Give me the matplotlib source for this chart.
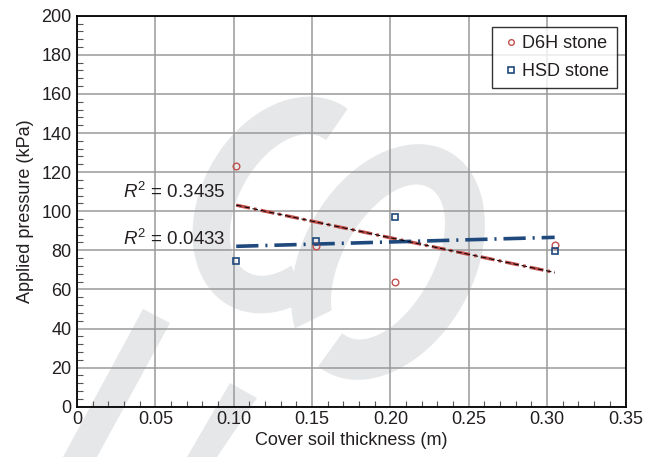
import numpy as np
import matplotlib
matplotlib.use('Agg')
import matplotlib.pyplot as plt
from matplotlib.patches import Polygon
from matplotlib.transforms import Affine2D
from matplotlib.ticker import MultipleLocator

plt.rcParams['font.family'] = ['Liberation Sans', 'DejaVu Sans']
plt.rcParams['mathtext.fontset'] = 'custom'
plt.rcParams['mathtext.it'] = 'Liberation Sans:italic'
plt.rcParams['mathtext.rm'] = 'Liberation Sans'
plt.rcParams['lines.scale_dashes'] = False

# cover soil thickness (m): 4, 6, 8 and 12 inch layers
thickness = [0.1016, 0.1524, 0.2032, 0.3048]
d6h_pressure = [123.3, 82.2, 63.9, 82.7]
hsd_pressure = [74.4, 84.8, 97.2, 79.8]
series_names = ['D6H stone', 'HSD stone']
r2_labels = ['0.3435', '0.0433']

RED = '#c0504d'
BLUE = '#1f497d'
TEXT = '#231f20'
GREY_MARK = '#e6e7e9'

W, H = 657, 457
fig = plt.figure(figsize=(W / 100, H / 100), dpi=100)
fig.patch.set_facecolor('white')
ax = fig.add_axes([77 / W, 1 - 406.7 / H, 548.5 / W, 391 / H])
ax.set_facecolor('none')

# background logo shapes, laid out in pixel units (y downwards)
px = Affine2D().scale(1 / W, -1 / H).translate(0, 1) + fig.transFigure


def ring(cx, cy, a, b, ang, w, t0, t1):
    t = np.radians(np.linspace(t0, t1, 240))
    al = np.radians(ang)
    u = np.array([np.cos(al), -np.sin(al)])
    v = np.array([np.sin(al), np.cos(al)])
    c = np.array([cx, cy])
    outer = c + np.outer(a * np.cos(t), u) + np.outer(b * np.sin(t), v)
    inner = c + np.outer((a - w) * np.cos(t), u) + np.outer((b - w) * np.sin(t), v)
    return np.vstack([outer, inner[::-1]])


shapes = [
    ring(285, 205, 115, 84, 60.6, 38, 130, 365),
    ring(388, 262, 126, 86, 61, 41, 215, 547),
    np.array([[143, 309], [170, 323], [97, 457], [63, 457]]),
    np.array([[230, 383], [257, 398], [217, 457], [187, 457]]),
]
for pts in shapes:
    fig.add_artist(Polygon(pts, closed=True, transform=px, facecolor=GREY_MARK,
                           edgecolor='none', zorder=-5))

x = np.array(thickness)
xs = np.array([x.min(), x.max()])

# linear trend lines
k1, c1 = np.polyfit(x, d6h_pressure, 1)
ax.plot(xs, k1 * xs + c1, color=RED, lw=2.4, ls=(0, (10, 3, 2, 3)), zorder=3)
ax.plot(xs, k1 * xs + c1, color='black', lw=0.7, ls=(0, (4, 2)), zorder=4)
k2, c2 = np.polyfit(x, hsd_pressure, 1)
ax.plot(xs, k2 * xs + c2, color=BLUE, lw=2.6, ls=(0, (16, 5, 1.5, 5)), zorder=3)

ax.plot(x, d6h_pressure, 'o', ms=4.8, mfc='none', mec=RED, mew=1.0,
        label=series_names[0], zorder=5)
ax.plot(x, hsd_pressure, 's', ms=4.6, mfc='none', mec=BLUE, mew=1.2,
        label=series_names[1], zorder=5)

ax.text(0.095, 106.7, r'$R^2$ = ' + r2_labels[0], ha='right', va='baseline',
        fontsize=13.5, color=TEXT)
ax.text(0.095, 82.7, r'$R^2$ = ' + r2_labels[1], ha='right', va='baseline',
        fontsize=13.5, color=TEXT)

ax.set_xlim(0, 0.35)
ax.set_ylim(0, 200)
ax.xaxis.set_minor_locator(MultipleLocator(0.01))
ax.yaxis.set_major_locator(MultipleLocator(20))
ax.yaxis.set_minor_locator(MultipleLocator(4))
ax.set_xticks([0, 0.05, 0.10, 0.15, 0.20, 0.25, 0.30, 0.35])
ax.set_xticklabels(['0', '0.05', '0.10', '0.15', '0.20', '0.25', '0.30', '0.35'])
ax.grid(True, which='major', color='#9a9a9a', lw=1.1, zorder=1)
ax.set_axisbelow(True)
ax.tick_params(which='major', length=0, labelsize=13, colors=TEXT)
ax.tick_params(axis='x', which='major', pad=3)
ax.tick_params(axis='y', which='major', pad=4)
ax.tick_params(which='minor', direction='in', length=4, width=0.8, color='#555555')
for s in ax.spines.values():
    s.set_linewidth(1.3)
    s.set_color('black')

ax.set_xlabel('Cover soil thickness (m)', fontsize=13, color=TEXT, labelpad=3)
ax.set_ylabel('Applied pressure (kPa)', fontsize=13, color=TEXT, labelpad=5)

leg = ax.legend(loc='upper right', bbox_to_anchor=(0.985, 0.971), borderaxespad=0,
                fontsize=13, frameon=True, fancybox=False, handlelength=1.2,
                handletextpad=0.0, borderpad=0.45, labelspacing=0.6, markerscale=0.85)
leg.get_frame().set_edgecolor('black')
leg.get_frame().set_linewidth(1.0)
for t in leg.get_texts():
    t.set_color(TEXT)

fig.savefig('out.png', dpi=100, facecolor='white')
